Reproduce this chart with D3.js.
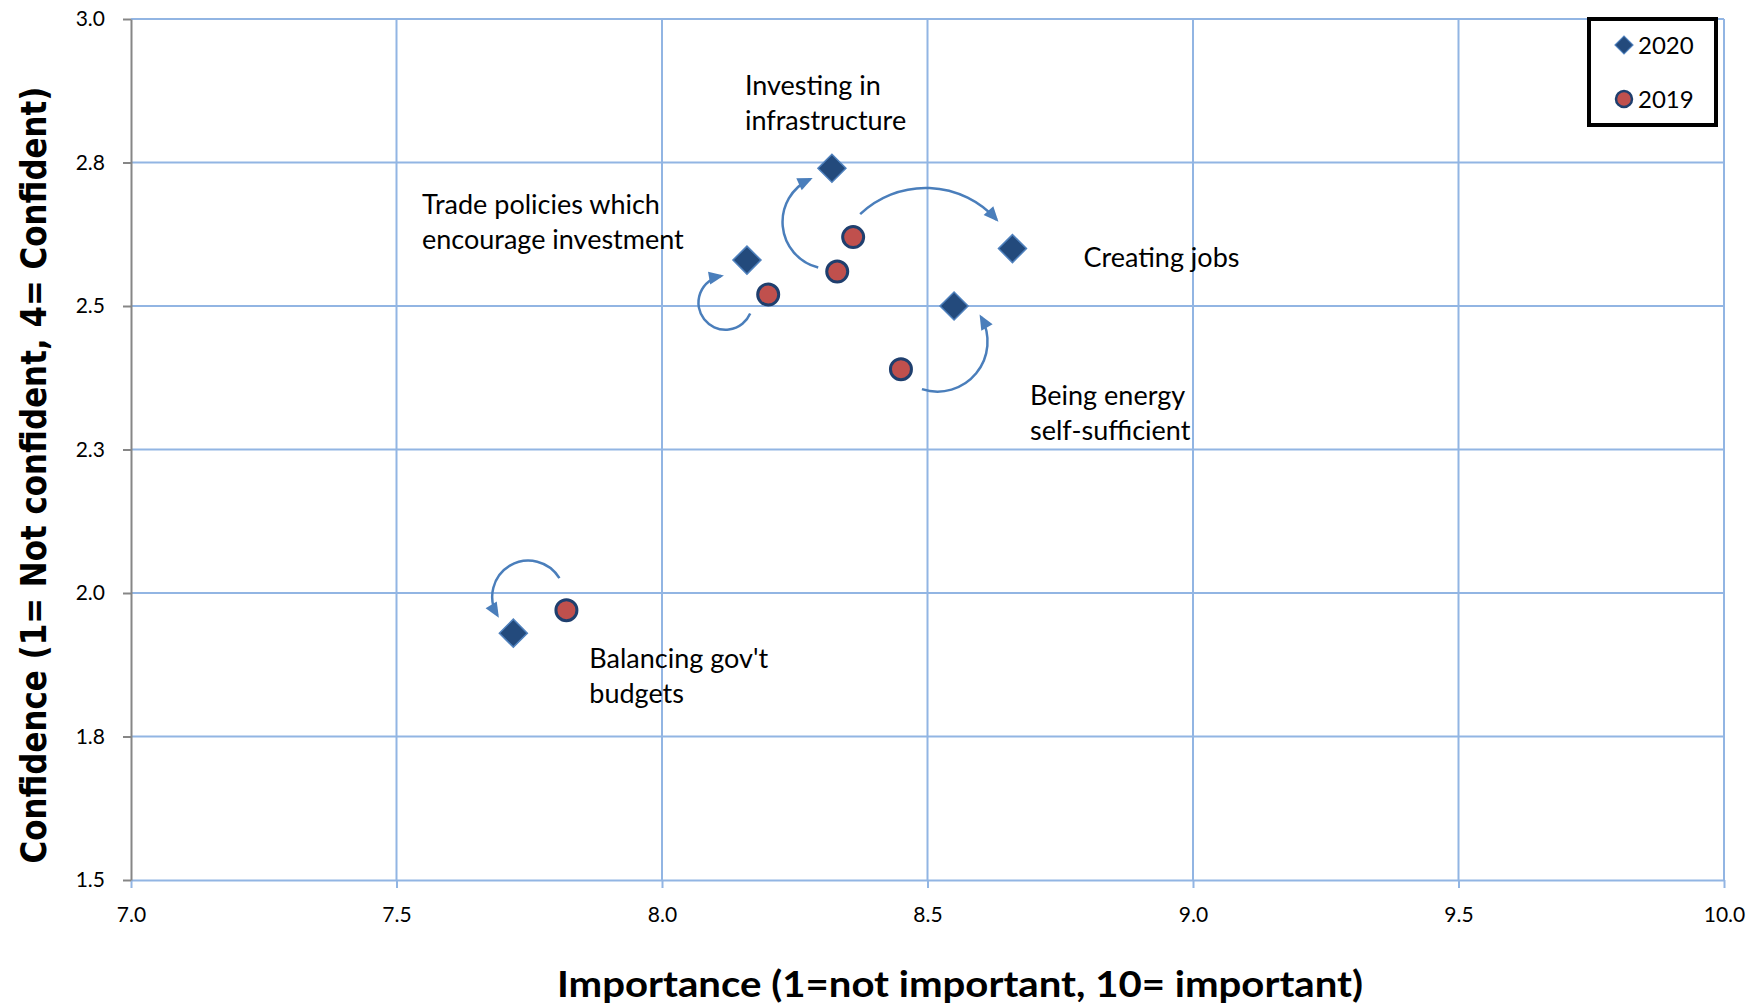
<!DOCTYPE html>
<html>
<head>
<meta charset="utf-8">
<script src="https://cdn.jsdelivr.net/npm/d3@7"></script>
<style>
  html, body { margin: 0; padding: 0; background: #ffffff; }
  svg { display: block; }
</style>
</head>
<body>
<svg id="chart" width="1752" height="1004"></svg>
<script>
// ---- data ----
const categories = [
  "Investing in infrastructure",
  "Trade policies which encourage investment",
  "Creating jobs",
  "Being energy self-sufficient",
  "Balancing gov't budgets"
];
const importance2020 = [8.32, 8.16, 8.66, 8.55, 7.72];
const confidence2020 = [2.74, 2.58, 2.60, 2.50, 1.93];
const importance2019 = [8.33, 8.20, 8.36, 8.45, 7.82];
const confidence2019 = [2.56, 2.52, 2.62, 2.39, 1.97];
const seriesNames = ["2020", "2019"];
const labelLines = [
  ["Investing in", "infrastructure"],
  ["Trade policies which", "encourage investment"],
  ["Creating jobs"],
  ["Being energy", "self-sufficient"],
  ["Balancing gov't", "budgets"]
];
const xTickValues = [7, 7.5, 8, 8.5, 9, 9.5, 10];
const xTickLabels = ["7.0", "7.5", "8.0", "8.5", "9.0", "9.5", "10.0"];
const yTickValues = [1.5, 1.75, 2, 2.25, 2.5, 2.75, 3];
const yTickLabels = ["1.5", "1.8", "2.0", "2.3", "2.5", "2.8", "3.0"];
const xTitle = "Importance (1=not important, 10= important)";
const yTitle = "Confidence (1= Not confident, 4= Confident)";

// ---- layout (pixels) ----
const plot = { left: 131, right: 1724, top: 19, bottom: 880 };
// label anchor: offset of first baseline from the 2020 marker
const labelOffset = [[-87, -73], [-325, -46], [71, 18], [76, 99], [76, 35]];
const lineGap = 34.5;
// change arrows: start offset from 2019 marker, tip offset from 2020 marker, arc radius, flags
const arrowSpec = [
  { s: [-19, -4], e: [-22, 11], r: 47, large: 0, sweep: 1 },
  { s: [-18, 19], e: [-26, 16], r: 27, large: 1, sweep: 1 },
  { s: [7, -23],  e: [-16, -29], r: 95, large: 0, sweep: 1 },
  { s: [21, 20],  e: [27, 11],  r: 50, large: 0, sweep: 0 },
  { s: [-7, -32], e: [-16, -18], r: 36, large: 1, sweep: 0 }
];

const gridColor = "#92b5e3";
const axisGray = "#868686";
const arrowColor = "#4a7ebb";
const diamondFill = "#234a7c";
const diamondStroke = "#4f81bd";
const circleFill = "#c0504d";
const circleStroke = "#1f3f6e";
const textFont = "Lato, 'Open Sans', sans-serif";

const svg = d3.select("#chart");

const x = d3.scaleLinear().domain([7, 10]).range([plot.left, plot.right]);
const y = d3.scaleLinear().domain([1.5, 3]).range([plot.bottom, plot.top]);

// ---- grid ----
const grid = svg.append("g");
grid.selectAll("line.v").data(xTickValues.slice(1)).join("line")
  .attr("x1", d => x(d)).attr("x2", d => x(d))
  .attr("y1", plot.top).attr("y2", plot.bottom)
  .attr("stroke", gridColor).attr("stroke-width", 2);
grid.selectAll("line.h").data(yTickValues.slice(1)).join("line")
  .attr("x1", plot.left).attr("x2", plot.right)
  .attr("y1", d => y(d)).attr("y2", d => y(d))
  .attr("stroke", gridColor).attr("stroke-width", 2);

// ---- axes ----
const xAxis = svg.append("g")
  .attr("transform", `translate(0,${plot.bottom})`)
  .call(d3.axisBottom(x).tickValues(xTickValues)
    .tickFormat((d, i) => xTickLabels[i]).tickSize(8).tickPadding(19).tickSizeOuter(0));
xAxis.select(".domain").attr("stroke", gridColor).attr("stroke-width", 2);
xAxis.selectAll(".tick line").attr("stroke", gridColor).attr("stroke-width", 2);
xAxis.selectAll(".tick text").attr("font-family", textFont).attr("font-size", 21).attr("fill", "#000");

const yAxis = svg.append("g")
  .attr("transform", `translate(${plot.left},0)`)
  .call(d3.axisLeft(y).tickValues(yTickValues)
    .tickFormat((d, i) => yTickLabels[i]).tickSize(8).tickPadding(18).tickSizeOuter(0));
yAxis.select(".domain").attr("stroke", axisGray).attr("stroke-width", 2);
yAxis.selectAll(".tick line").attr("stroke", axisGray).attr("stroke-width", 2);
yAxis.selectAll(".tick text").attr("font-family", textFont).attr("font-size", 21).attr("fill", "#000");

// ---- axis titles ----
svg.append("text")
  .attr("x", 960).attr("y", 997)
  .attr("text-anchor", "middle")
  .attr("font-family", textFont).attr("font-weight", 700).attr("font-size", 36)
  .attr("textLength", 806).attr("lengthAdjust", "spacingAndGlyphs")
  .text(xTitle);

svg.append("text")
  .attr("transform", "translate(46,475) rotate(-90)")
  .attr("text-anchor", "middle")
  .attr("font-family", "'DejaVu Sans', sans-serif").attr("font-weight", 700).attr("font-size", 36)
  .attr("textLength", 777).attr("lengthAdjust", "spacingAndGlyphs")
  .text(yTitle);

// ---- arrow marker ----
svg.append("defs").append("marker")
  .attr("id", "head")
  .attr("markerUnits", "userSpaceOnUse")
  .attr("viewBox", "-16 -8 20 16")
  .attr("markerWidth", 20).attr("markerHeight", 16)
  .attr("refX", -3).attr("refY", 0)
  .attr("orient", "auto")
  .append("path")
  .attr("d", "M0,0 L-15,-6.5 L-15,6.5 Z")
  .attr("fill", arrowColor);

const points = categories.map((c, i) => ({
  name: c,
  p19: [x(importance2019[i]), y(confidence2019[i])],
  p20: [x(importance2020[i]), y(confidence2020[i])],
  i
}));

// ---- change arrows (2019 -> 2020) ----
svg.append("g").selectAll("path").data(points).join("path")
  .attr("d", d => {
    const a = arrowSpec[d.i];
    const sx = d.p19[0] + a.s[0], sy = d.p19[1] + a.s[1];
    const ex = d.p20[0] + a.e[0], ey = d.p20[1] + a.e[1];
    return `M${sx},${sy} A${a.r},${a.r} 0 ${a.large} ${a.sweep} ${ex},${ey}`;
  })
  .attr("fill", "none")
  .attr("stroke", arrowColor)
  .attr("stroke-width", 2.5)
  .attr("marker-end", "url(#head)");

// ---- markers ----
const diamond = d3.symbol().type(d3.symbolSquare).size(392);
const smallDiamond = d3.symbol().type(d3.symbolSquare).size(162);

svg.append("g").selectAll("path").data(points).join("path")
  .attr("d", diamond)
  .attr("transform", d => `translate(${d.p20[0]},${d.p20[1]}) rotate(45)`)
  .attr("fill", diamondFill)
  .attr("stroke", diamondStroke)
  .attr("stroke-width", 1.5);

svg.append("g").selectAll("circle").data(points).join("circle")
  .attr("cx", d => d.p19[0]).attr("cy", d => d.p19[1])
  .attr("r", 10.5)
  .attr("fill", circleFill)
  .attr("stroke", circleStroke)
  .attr("stroke-width", 3);

// ---- category labels ----
svg.append("g").selectAll("text").data(points).join("text")
  .attr("font-family", textFont).attr("font-size", 27).attr("fill", "#000")
  .attr("transform", d => `translate(${d.p20[0] + labelOffset[d.i][0]},${d.p20[1] + labelOffset[d.i][1]})`)
  .selectAll("tspan").data(d => labelLines[d.i]).join("tspan")
  .attr("x", 0).attr("y", (d, k) => k * lineGap)
  .text(d => d);

// ---- legend ----
const legend = svg.append("g");
legend.append("rect")
  .attr("x", 1589).attr("y", 19).attr("width", 127).attr("height", 106)
  .attr("fill", "#fff").attr("stroke", "#000").attr("stroke-width", 4);
const legendRows = legend.selectAll("g.row").data(seriesNames).join("g")
  .attr("transform", (d, i) => `translate(1624,${45 + i * 54})`);
legendRows.each(function (d, i) {
  const g = d3.select(this);
  if (i === 0) {
    g.append("path").attr("d", smallDiamond).attr("transform", "rotate(45)")
      .attr("fill", diamondFill).attr("stroke", diamondStroke).attr("stroke-width", 1.2);
  } else {
    g.append("circle").attr("r", 8).attr("fill", circleFill)
      .attr("stroke", circleStroke).attr("stroke-width", 2.5);
  }
  g.append("text").attr("x", 14).attr("y", 9)
    .attr("font-family", textFont).attr("font-size", 24).attr("fill", "#000")
    .text(d);
});
</script>
</body>
</html>
